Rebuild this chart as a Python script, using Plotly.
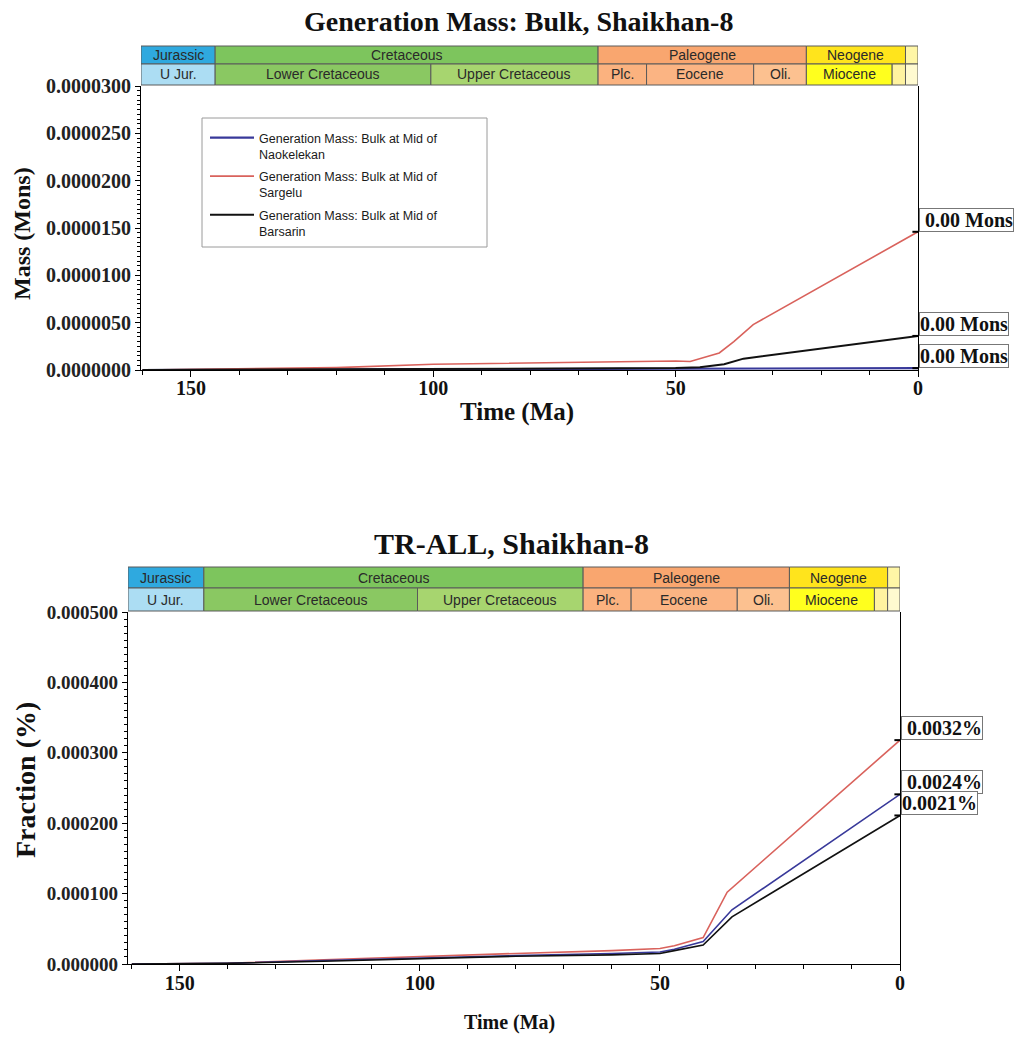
import plotly.graph_objects as go

W, H = 1032, 1041

# ---------------- data ----------------
# Top chart: Generation Mass (Mons) vs time (Ma)
top_age_red = [160, 140, 120, 100, 75, 60, 50, 47, 41, 38, 34, 0]
top_val_red = [0, 0.0000001, 0.00000025, 0.0000006, 0.0000008, 0.0000009, 0.00000095,
               0.0000009, 0.0000018, 0.000003, 0.0000048, 0.0000146]
top_age_black = [160, 100, 60, 50, 45, 40, 36, 0]
top_val_black = [0, 0.0000001, 0.0000002, 0.0000002, 0.0000003, 0.0000006, 0.0000012, 0.0000036]
top_age_blue = [160, 100, 50, 40, 0]
top_val_blue = [0, 0.00000005, 0.0000001, 0.00000015, 0.0000002]
top_labels = ["\u00a00.00 Mons", "0.00 Mons", "0.00 Mons"]

# Bottom chart: TR-ALL fraction vs time (Ma)
bot_age_red = [160, 140, 120, 100, 80, 60, 50, 47, 41, 36, 0]
bot_val_red = [0, 0.000001, 0.000006, 0.000011, 0.000015, 0.000019, 0.000022, 0.000026,
               0.0000375, 0.000102, 0.000318]
bot_age_blue = [160, 140, 120, 100, 80, 60, 50, 47, 41, 35, 0]
bot_val_blue = [0, 0.000001, 0.000005, 0.000009, 0.000012, 0.000015, 0.000017, 0.000021,
                0.000032, 0.000077, 0.000241]
bot_age_black = [160, 140, 120, 100, 80, 60, 50, 47, 41, 35, 0]
bot_val_black = [0, 0.000001, 0.000004, 0.000008, 0.000011, 0.000013, 0.000015, 0.000019,
                 0.000027, 0.000067, 0.000211]
bot_labels = ["\u00a00.0032%", "\u00a00.0024%", "0.0021%"]

series_names = ["Generation Mass: Bulk at Mid of<br>Naokelekan",
                "Generation Mass: Bulk at Mid of<br>Sargelu",
                "Generation Mass: Bulk at Mid of<br>Barsarin"]

# Geologic time scale (Ma)
period_names = ["Jurassic", "Cretaceous", "Paleogene", "Neogene", ""]
period_start = [163.5, 145.0, 66.0, 23.03, 2.58]
period_end = [145.0, 66.0, 23.03, 2.58, 0.0]
period_colors = ["#2FA9DF", "#7DC55D", "#F9A66F", "#FFE41C", "#FFF6A6"]

epoch_names = ["U Jur.", "Lower Cretaceous", "Upper Cretaceous", "Plc.", "Eocene", "Oli.",
               "Miocene", "", ""]
epoch_start = [163.5, 145.0, 100.5, 66.0, 56.0, 33.9, 23.03, 5.33, 2.58]
epoch_end = [145.0, 100.5, 66.0, 56.0, 33.9, 23.03, 5.33, 2.58, 0.0]
epoch_colors = ["#ACDDF3", "#8AC862", "#A7D56F", "#FBB27F", "#FBB483", "#FCC190",
                "#FFFF1E", "#FFF3A0", "#FFFAD0"]

# ---------------- layout helpers ----------------
def px(x):
    return x / W

def py(y):
    return 1 - y / H

RED = "#D9625C"
BLUE = "#38399A"
BLACK = "#111111"

TOP_XMAX = 160.3
BOT_XMAX = 160.8

fig = go.Figure()

for i, (ages, vals, col, name, wd) in enumerate([
    (top_age_blue, top_val_blue, BLUE, series_names[0], 2.2),
    (top_age_red, top_val_red, RED, series_names[1], 1.6),
    (top_age_black, top_val_black, BLACK, series_names[2], 2.0),
]):
    fig.add_trace(go.Scatter(x=ages, y=vals, mode="lines", name=name, legendgroup=f"g{i}",
                             line=dict(color=col, width=wd), xaxis="x", yaxis="y"))

for ages, vals, col in [
    (bot_age_red, bot_val_red, RED),
    (bot_age_blue, bot_val_blue, BLUE),
    (bot_age_black, bot_val_black, BLACK),
]:
    fig.add_trace(go.Scatter(x=ages, y=vals, mode="lines", showlegend=False,
                             line=dict(color=col, width=1.6), xaxis="x2", yaxis="y2"))

top_ends = [top_val_red[-1], top_val_black[-1], top_val_blue[-1]]
bot_ends = [bot_val_red[-1], bot_val_blue[-1], bot_val_black[-1]]
fig.add_trace(go.Scatter(x=[top_age_red[-1], top_age_black[-1], top_age_blue[-1]], y=top_ends,
                         mode="markers", showlegend=False, xaxis="x", yaxis="y",
                         marker=dict(symbol="line-ew", size=8, line=dict(color="black", width=2))))
fig.add_trace(go.Scatter(x=[bot_age_red[-1], bot_age_blue[-1], bot_age_black[-1]], y=bot_ends,
                         mode="markers", showlegend=False, xaxis="x2", yaxis="y2",
                         marker=dict(symbol="line-ew", size=8, line=dict(color="black", width=2))))

serif = "Liberation Serif, Times New Roman, serif"
sans = "Liberation Sans, Arial, sans-serif"

axis_common = dict(showline=True, linecolor="black", linewidth=1.2, showgrid=False,
                   zeroline=False, ticks="outside", tickcolor="black", automargin=False)

fig.update_layout(
    template="none",
    width=W, height=H, autosize=False, margin=dict(l=0, r=0, t=0, b=0, pad=0, autoexpand=False),
    paper_bgcolor="white", plot_bgcolor="white",
    showlegend=True,
    legend=dict(x=px(205), y=py(123), xanchor="left", yanchor="top",
                bgcolor="rgba(0,0,0,0)", borderwidth=0, itemwidth=44, valign="top",
                font=dict(family=sans, size=12.5, color="#1a1a1a"),
                tracegroupgap=3),
    xaxis=dict(domain=[px(141), px(918)], range=[TOP_XMAX, 0], anchor="y",
               tickvals=[150, 100, 50, 0], ticklen=6, ticklabelstandoff=-6,
               tickfont=dict(family=serif, size=20, color="#111", weight="bold"),
               minor=dict(dtick=10, ticklen=4, ticks="outside", tickcolor="black"),
               **axis_common),
    yaxis=dict(domain=[py(370), py(86)], range=[0, 0.00003], anchor="x",
               dtick=0.000005, tickformat=".7f", ticklen=5, mirror=True,
               tickfont=dict(family=serif, size=20, color="#222", weight="bold"),
               minor=dict(dtick=0.0000005, ticklen=3, ticks="outside", tickcolor="black"),
               **axis_common),
    xaxis2=dict(domain=[px(128), px(900)], range=[BOT_XMAX, 0], anchor="y2",
                tickvals=[150, 100, 50, 0], ticklen=6, ticklabelstandoff=-5,
                tickfont=dict(family=serif, size=20, color="#111", weight="bold"),
                minor=dict(dtick=10, ticklen=4, ticks="outside", tickcolor="black"),
                **axis_common),
    yaxis2=dict(domain=[py(964), py(612)], range=[0, 0.0005], anchor="x2",
                dtick=0.0001, tickformat=".6f", ticklen=5, mirror=True,
                tickfont=dict(family=serif, size=19, color="#222", weight="bold"),
                minor=dict(dtick=0.00001, ticklen=3, ticks="outside", tickcolor="black"),
                **axis_common),
)

shapes = []
annotations = []

def add_bar(xref, xmax, names, starts, ends, colors, ytop, ybot, fsize):
    for n, s, e, c in zip(names, starts, ends, colors):
        x0 = min(s, xmax)
        shapes.append(dict(type="rect", xref=xref, yref="paper", x0=x0, x1=e,
                           y0=py(ybot), y1=py(ytop), fillcolor=c,
                           line=dict(color="#5a5a5a", width=1), layer="above"))
        if n:
            annotations.append(dict(x=(x0 + e) / 2, y=py((ytop + ybot) / 2), xref=xref,
                                    yref="paper", text=n, showarrow=False,
                                    xanchor="center", yanchor="middle",
                                    font=dict(family=sans, size=fsize, color="#2a2a2a")))

add_bar("x", TOP_XMAX, period_names, period_start, period_end, period_colors, 46, 64, 14)
add_bar("x", TOP_XMAX, epoch_names, epoch_start, epoch_end, epoch_colors, 64, 85, 14)
add_bar("x2", BOT_XMAX, period_names, period_start, period_end, period_colors, 567, 588, 14)
add_bar("x2", BOT_XMAX, epoch_names, epoch_start, epoch_end, epoch_colors, 588, 611, 14)

# legend frame
shapes.append(dict(type="rect", xref="paper", yref="paper", x0=px(202), x1=px(487),
                   y0=py(247), y1=py(118), line=dict(color="#9a9a9a", width=1),
                   fillcolor="rgba(0,0,0,0)", layer="above"))

for val, txt in zip(top_ends, top_labels):
    annotations.append(dict(x=0, y=val, xref="x", yref="y", text=txt, showarrow=False,
                            xanchor="left", yanchor="bottom", xshift=1,
                            bgcolor="white", bordercolor="#777", borderwidth=1, borderpad=0,
                            font=dict(family=serif, size=20, color="#111", weight="bold")))
for val, txt in zip(bot_ends, bot_labels):
    annotations.append(dict(x=0, y=val, xref="x2", yref="y2", text=txt, showarrow=False,
                            xanchor="left", yanchor="bottom", xshift=1,
                            bgcolor="white", bordercolor="#777", borderwidth=1, borderpad=0,
                            font=dict(family=serif, size=20, color="#111", weight="bold")))

def paper_text(x, y, text, size, angle=0):
    return dict(x=px(x), y=py(y), xref="paper", yref="paper", text=text, textangle=angle,
                xanchor="center", yanchor="middle", showarrow=False,
                font=dict(family=serif, size=size, color="#111"))

annotations += [
    paper_text(518, 22, "<b>Generation Mass: Bulk, Shaikhan-8</b>", 28),
    paper_text(511, 543, "<b>TR-ALL, Shaikhan-8</b>", 30),
    paper_text(22, 234, "<b>Mass (Mons)</b>", 24, -90),
    paper_text(517, 412, "<b>Time (Ma)</b>", 25),
    paper_text(25, 780, "<b>Fraction (%)</b>", 28, -90),
    paper_text(509, 1022, "<b>Time (Ma)</b>", 20),
]

fig.update_layout(shapes=shapes, annotations=annotations)
fig.write_html("out.html", post_script="document.body.style.margin='0px';")
